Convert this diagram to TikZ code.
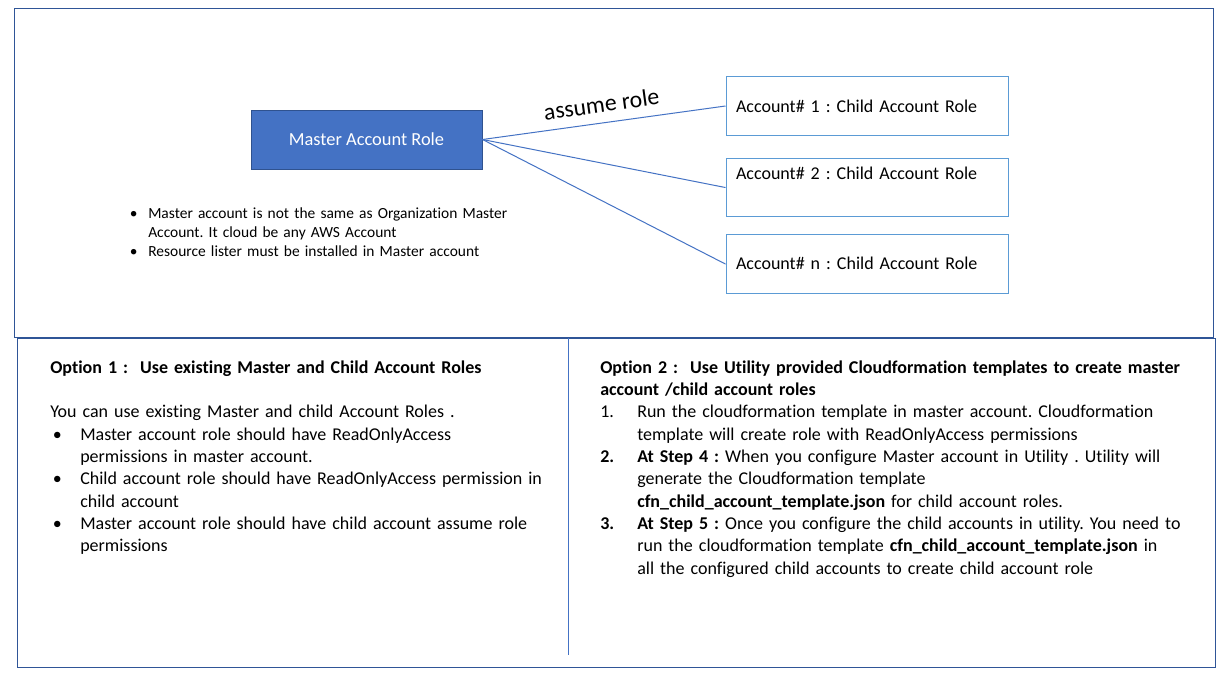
\documentclass[tikz,border=0pt]{standalone}
\usepackage{fontspec}
\setmainfont{Carlito}[Ligatures={NoCommon}]
\usetikzlibrary{positioning}
\definecolor{mainblue}{HTML}{4472C4}
\definecolor{darkblue}{HTML}{2F528F}
\definecolor{lightblue}{HTML}{5B9BD5}
\definecolor{framecol}{HTML}{2F5597}
\frenchspacing
\newcommand{\HangItem}[3]{\hangindent=#1\hangafter=1\noindent\makebox[#1][l]{#2}#3}
\newcommand{\Bul}{\hspace{2pt}\textbullet}
\tikzstyle{masterbox} = [rectangle,fill=mainblue,draw=darkblue,line width=0.75pt,text=white,minimum width=173.25pt,minimum height=44.25pt, font=\fontsize{13.8}{16}\selectfont]
\tikzstyle{childbox} = [rectangle,draw=lightblue,line width=0.75pt,text width=196.5pt,inner xsep=7.5pt,minimum height=43.9pt,text height=9pt,text depth=0pt, font=\fontsize{13.5}{16}\selectfont]
\tikzstyle{optext} = [inner sep=0pt, anchor=base west, font=\fontsize{13.5}{16.75}\selectfont]

\begin{document}
\begin{tikzpicture}[x=0.75pt,y=-0.75pt,
  frame/.style={draw=framecol,line width=0.75pt},
  link/.style={draw=mainblue,line width=0.75pt},
  rolelabel/.style={midway,sloped,above,inner ysep=7.5pt,font=\fontsize{17.8}{20}\selectfont}]
\fill[white] (0,0) rectangle (1232,689);
\useasboundingbox (0,0) rectangle (1232,689);

% Frames
\draw[frame] (14,8) rectangle (1213,337);
\draw[frame] (17,338) rectangle (1215,667);
\draw[link] (568,338) -- (568,655);

% Define nodes
\node[masterbox]                                   (m)  at (366.5,139.5) {Master Account Role};
\node[childbox]                                    (c1) at (867,106) {Account\# 1 : Child Account Role};
\node[childbox, below=16.5pt of c1, text depth=21pt] (c2) {Account\# 2 : Child Account Role};
\node[childbox, below=12.75pt of c2, text depth=1pt] (c3) {Account\# n : Child Account Role};

\node[optext, text width=360pt, font=\fontsize{11.6}{14.25}\selectfont] (note) at (127,218)
  {\HangItem{15.75pt}{\Bul}{Master account is not the same as Organization Master\newline Account. It cloud be any AWS Account}%
   \par\HangItem{15.75pt}{\Bul}{Resource lister must be installed in Master account}\par};

\node[optext, text width=460pt] (opt1) at (50,373)
  {\textbf{Option 1 :\ \ Use existing Master and Child Account Roles}\par\vspace{16.75pt}%
   You can use existing Master and child Account Roles .%
   \par\HangItem{22.5pt}{\Bul}{Master account role should have ReadOnlyAccess\newline permissions in master account.}%
   \par\HangItem{22.5pt}{\Bul}{Child account role should have ReadOnlyAccess permission in\newline child account}%
   \par\HangItem{22.5pt}{\Bul}{Master account role should have child account assume role\newline permissions}\par};

\node[optext, text width=475pt] (opt2) at (600,373)
  {\textbf{Option 2 :\ \ Use Utility provided Cloudformation templates to create master\newline account /child account roles}%
   \par\HangItem{27.75pt}{1.}{Run the cloudformation template in master account. Cloudformation\newline template will create role with ReadOnlyAccess permissions}%
   \par\HangItem{27.75pt}{\textbf{2.}}{\textbf{At Step 4 :} When you configure Master account in Utility . Utility will\newline generate the Cloudformation template\newline \textbf{cfn\_child\_account\_template.json} for child account roles.}%
   \par\HangItem{27.75pt}{\textbf{3.}}{\textbf{At Step 5 :} Once you configure the child accounts in utility. You need to\newline run the cloudformation template \textbf{cfn\_child\_account\_template.json} in\newline all the configured child accounts to create child account role}\par};

% Edges
\draw[link] (m.east) -- node[rolelabel] {assume role} (c1.west);
\draw[link] (m.east) -- (c2.west);
\draw[link] (m.east) -- (c3.west);
\end{tikzpicture}
\end{document}
